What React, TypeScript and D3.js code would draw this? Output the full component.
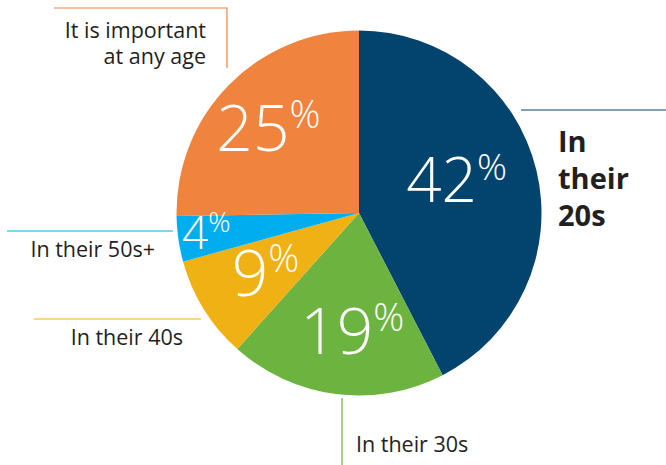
import * as d3 from 'd3';
import React from 'react';

const categories = ['In their 20s', 'In their 30s', 'In their 40s', 'In their 50s+', 'It is important at any age'];
const values = [42, 19, 9, 4, 25];
const colors = ['#03446f', '#6db33f', '#efb114', '#00aeef', '#f0833e'];

// label placement inside the slices (radius in px, angle nudge in degrees, font size)
const labelRadius = [103, 118, 111, 154, 124];
const labelNudge = [-5, -4, -0.7, 1, -1.5];
const labelSize = [62, 64, 64, 46, 64];

// outside callouts: leader line + text lines
const callouts = [
  { line: [[521, 110], [666, 110]], lines: ['In', 'their', '20s'], x: 558, y: 152, dy: 37, anchor: 'start', bold: true },
  { line: [[342, 398], [342, 465]], lines: ['In their 30s'], x: 356, y: 452, dy: 0, anchor: 'start', bold: false },
  { line: [[34, 319], [201, 319]], lines: ['In their 40s'], x: 183, y: 345, dy: 0, anchor: 'end', bold: false },
  { line: [[7, 231], [173, 231]], lines: ['In their 50s+'], x: 155, y: 257, dy: 0, anchor: 'end', bold: false },
  { line: [[54, 8], [227, 8], [227, 68]], lines: ['It is important', 'at any age'], x: 206, y: 38, dy: 26, anchor: 'end', bold: false },
];

const W = 666;
const H = 465;
const cx = 359;
const cy = 213;
const R = 182.5;

export default function App() {
  const arcs = d3.pie<number>().sort(null).value(d => d)(values);
  const arc = d3.arc<d3.PieArcDatum<number>>().innerRadius(0).outerRadius(R);
  const line = d3.line();
  const font = '"Open Sans", "DejaVu Sans", sans-serif';

  return (
    <svg width={W} height={H} style={{ position: 'absolute', left: 0, top: 0, display: 'block' }}>
      <g transform={`translate(${cx},${cy})`}>
        {arcs.map((a, i) => (
          <path key={i} d={arc(a) ?? ''} fill={colors[i]}>
            <title>{categories[i]}</title>
          </path>
        ))}
        {arcs.map((a, i) => {
          const mid = (a.startAngle + a.endAngle) / 2 + (labelNudge[i] * Math.PI) / 180;
          const r = labelRadius[i];
          const x = Math.sin(mid) * r;
          const y = -Math.cos(mid) * r;
          const fs = labelSize[i];
          return (
            <text
              key={i}
              x={x}
              y={y + fs * 0.357}
              textAnchor="middle"
              fill="#fff"
              fontFamily={font}
              fontWeight={350}
              fontSize={fs}
            >
              {values[i]}
              <tspan fontSize={fs * 0.6} dy={-fs * 0.36}>%</tspan>
            </text>
          );
        })}
      </g>
      {callouts.map((c, i) => (
        <g key={i}>
          <path
            d={line(c.line as [number, number][]) ?? ''}
            fill="none"
            stroke={colors[i]}
            strokeWidth={1.2}
          />
          <text
            textAnchor={c.anchor}
            fill="#231f20"
            fontFamily={font}
            fontSize={c.bold ? 29 : 21.5}
            fontWeight={c.bold ? 700 : 400}
          >
            {c.lines.map((t, j) => (
              <tspan key={j} x={c.x} y={c.y + j * c.dy}>{t}</tspan>
            ))}
          </text>
        </g>
      ))}
    </svg>
  );
}
